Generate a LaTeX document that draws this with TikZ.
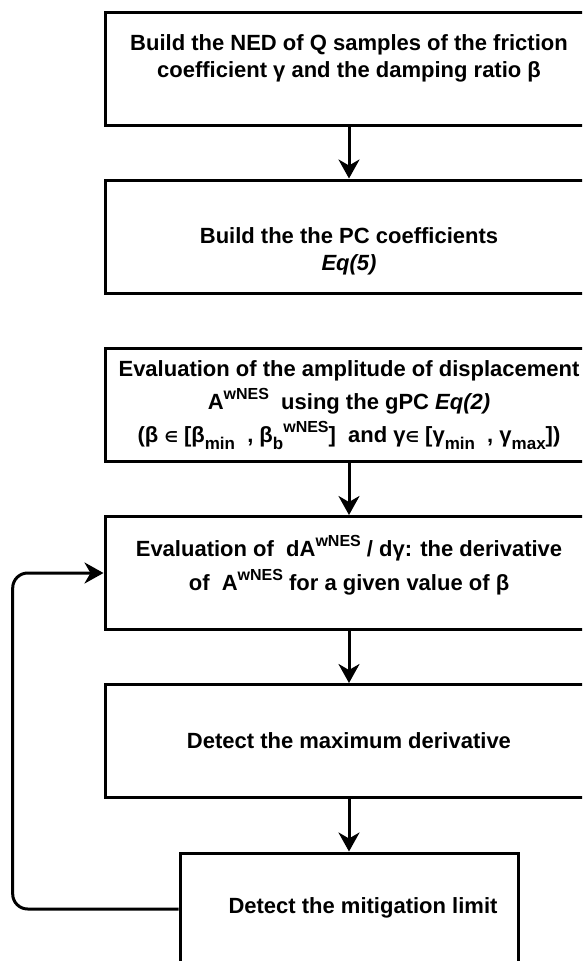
\documentclass[tikz,border=0pt]{standalone}
\usepackage{fontspec}
\setmainfont{Liberation Sans}
\newfontfamily\symfont{DejaVu Sans}
\usetikzlibrary{arrows.meta}
\newcommand{\supw}[1]{\raisebox{0.45em}{\fontsize{16}{16}\selectfont #1}}
\newcommand{\subw}[1]{\raisebox{-0.30em}{\fontsize{17}{17}\selectfont #1}}
\newcommand{\elem}{{\fontsize{15}{15}\selectfont\symfont ∈}}
\tikzset{
  box/.style={draw=black, line width=3pt, fill=white, minimum width=488pt, minimum height=113pt, inner sep=0pt},
  smallbox/.style={box, minimum width=338pt, minimum height=112pt},
  txt/.style={align=center, font=\fontsize{22}{27}\selectfont\bfseries, inner sep=0pt},
  conn/.style={line width=3pt, -{Stealth[length=19pt,width=21pt,inset=6pt]}},
}
\begin{document}
\begin{tikzpicture}[x=1pt,y=-1pt]
\useasboundingbox (0,0) rectangle (582,961);
\clip (0,0) rectangle (582,961);
\node[box] (b1) at (349,68.6) {};
\node[box] (b2) at (349,236.5) {};
\node[box] (b3) at (349,405) {};
\node[box] (b4) at (349,573) {};
\node[box] (b5) at (349,741) {};
\node[smallbox] (b6) at (349,909) {};

\node[txt] (t1) at (349,58.5) {Build the NED of Q samples of the friction\\coefficient γ and the damping ratio β};
\node[txt] (t2) at (349,251.5) {Build the the PC coefficients\\\itshape Eq(5)};
\node[txt, font=\fontsize{22}{33}\selectfont\bfseries] (t3) at (349,405) {Evaluation of the amplitude of displacement\\A\supw{wNES}\ \ using the gPC \textit{Eq(2)}\\(β \elem\ [β\subw{min}\ \ , β\subw{b}\supw{wNES}]\ \ and γ\elem\ [γ\subw{min}\ \ , γ\subw{max}])};
\node[txt, font=\fontsize{22}{34}\selectfont\bfseries] (t4) at (349,565) {Evaluation of\ \ dA\supw{wNES} / dγ: the derivative\\of\ \ A\supw{wNES} for a given value of β};
\node[txt] (t5) at (349,741) {Detect the maximum derivative};
\node[txt] (t6) at (363,908) {Detect the mitigation limit};

\coordinate (lp) at (12.7,0);
\draw[conn] (b1.south) -- (b2.north);
\draw[conn] (b3.south) -- (b4.north);
\draw[conn] (b4.south) -- (b5.north);
\draw[conn] (b5.south) -- (b6.north);
\draw[conn, rounded corners=15pt] (b6.west) -- (lp |- b6.west) -- (lp |- b4.west) -- (b4.west);
\end{tikzpicture}
\end{document}
